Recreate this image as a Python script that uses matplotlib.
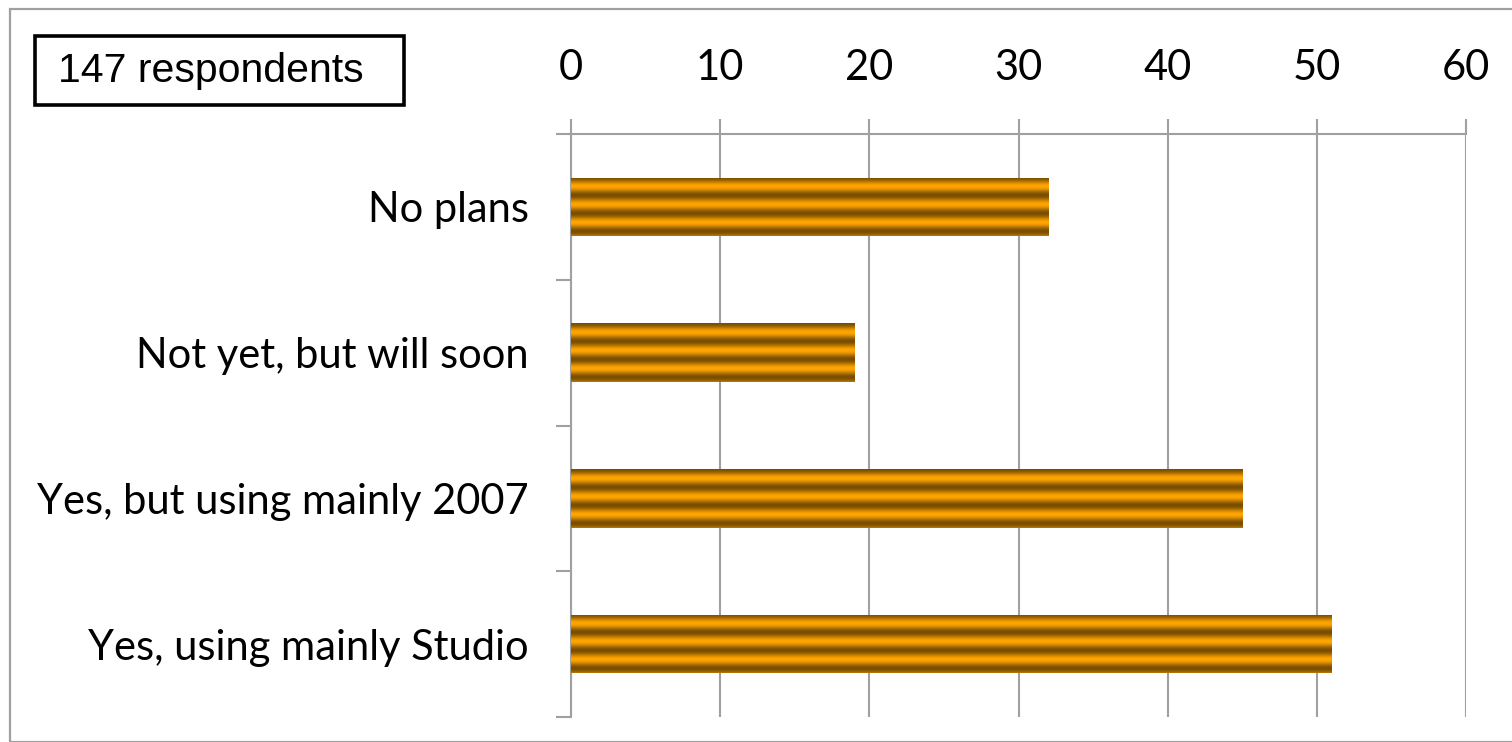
import matplotlib.pyplot as plt
import matplotlib.colors as mcolors
from matplotlib.patches import Rectangle
import numpy as np

categories = ["No plans", "Not yet, but will soon",
              "Yes, but using mainly 2007", "Yes, using mainly Studio"]
counts = [32, 19, 45, 51]
x_ticks = [0, 10, 20, 30, 40, 50, 60]
note = "147 respondents"

W, H = 1512, 742
fig = plt.figure(figsize=(W / 100, H / 100), dpi=100)
fig.patch.set_facecolor("white")

# outer chart border (runs off the right and bottom edges)
fig.patches.append(Rectangle((10 / W, 0), 1.2, 1 - 9 / H, transform=fig.transFigure,
                             fill=False, edgecolor="#a0a0a0", linewidth=1.6))

ax = fig.add_axes([571 / W, 25 / H, 895 / W, 583 / H])

grid_col = "#a0a0a0"
y = np.arange(len(categories))
bars = ax.barh(y, counts, height=0.4, color="#d08a00", zorder=2)

# horizontal stripes inside each bar
cmap = mcolors.LinearSegmentedColormap.from_list("stripe", ["#7a4e00", "#ffa500"])
t = np.linspace(0, 1, 200)
grad = (0.5 - 0.5 * np.cos(2 * np.pi * 3.25 * t)).reshape(-1, 1)
for b in bars:
    x0, y0, w, h = b.get_x(), b.get_y(), b.get_width(), b.get_height()
    im = ax.imshow(grad, cmap=cmap, aspect="auto", origin="upper",
                   extent=[x0, x0 + w, y0 + h, y0], zorder=3, interpolation="bilinear")
    im.set_clip_path(b)

ax.set_xlim(0, 60)
ax.set_ylim(len(categories) - 0.5, -0.5)

fs = 30
ax.xaxis.tick_top()
ax.set_xticks(x_ticks)
ax.set_xticklabels([str(v) for v in x_ticks], fontsize=fs, family="Lato")
ax.tick_params(axis="x", which="major", length=11, width=1.5, color=grid_col, pad=23)
ax.grid(axis="x", color=grid_col, linewidth=1.5, zorder=1)

ax.set_yticks(y)
ax.set_yticklabels(categories, fontsize=fs, family="Lato")
ax.set_yticks(np.arange(len(categories) + 1) - 0.5, minor=True)
ax.tick_params(axis="y", which="major", length=0, pad=30.5)
ax.tick_params(axis="y", which="minor", length=11, width=1.5, color=grid_col)

for s in ["right", "bottom"]:
    ax.spines[s].set_visible(False)
for s in ["top", "left"]:
    ax.spines[s].set_color(grid_col)
    ax.spines[s].set_linewidth(1.5)

# note box
fig.patches.append(Rectangle((35 / W, 1 - 105 / H), 369 / W, 69 / H,
                             transform=fig.transFigure, facecolor="white",
                             edgecolor="black", linewidth=2.6))
fig.text(211 / W, 1 - 71 / H, note, ha="center", va="center", fontsize=29.5,
         family="Liberation Sans")

fig.savefig("out.png", dpi=100)
